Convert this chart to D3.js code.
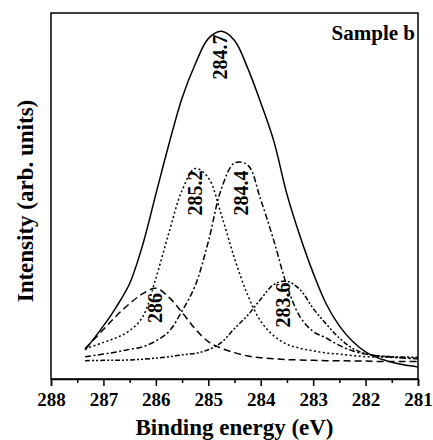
<!DOCTYPE html>
<html>
<head>
  <script src="https://d3js.org/d3.v7.min.js"></script>
  <style>
    body { margin: 0; background: #fff; }
    svg text { font-family: "Liberation Serif", "Times New Roman", serif; font-weight: bold; }
  </style>
</head>
<body>
  <svg width="433" height="440"></svg>
  <script>
    // binding energy grid (eV) and fitted intensities (arb. units)
    var energy = [287.35, 287.0, 286.75, 286.5, 286.25, 286.0, 285.75, 285.5, 285.25, 285.0,
                  284.75, 284.5, 284.25, 284.0, 283.75, 283.5, 283.25, 283.0, 282.75, 282.5,
                  282.25, 282.0, 281.75, 281.5, 281.25, 281.0];

    var envelope = [7.9, 14.5, 19.8, 26.1, 36.7, 50.5, 64.2, 76.8, 86.0, 93.0,
                    95.0, 92.5, 85.0, 75.5, 65.0, 50.5, 39.0, 29.0, 20.5, 14.5,
                    10.3, 7.4, 5.7, 4.6, 3.8, 3.3];

    var peak286 = [8.3, 13.5, 17.3, 20.6, 23.3, 24.8, 22.3, 18.2, 13.7, 10.2,
                   8.4, 7.2, 6.3, 5.8, 5.5, 5.3, 5.2, 5.1, 5.0, 5.0,
                   4.9, 4.9, 4.8, 4.8, 4.8, 4.8];

    var peak2852 = [8.2, 10.0, 11.3, 13.2, 17.0, 27.5, 40.0, 51.5, 57.5, 55.0,
                    44.8, 33.0, 23.0, 15.8, 11.8, 9.5, 8.4, 7.7, 7.1, 6.8,
                    6.4, 6.1, 6.0, 5.9, 5.8, 5.7];

    var peak2844 = [6.1, 6.8, 7.4, 8.1, 8.8, 10.4, 13.0, 18.6, 25.5, 37.5,
                    52.0, 59.0, 58.5, 49.0, 37.8, 25.5, 17.0, 13.0, 11.2, 9.2,
                    7.7, 6.8, 6.3, 6.0, 5.7, 5.5];

    var peak2836 = [5.0, 5.1, 5.1, 5.2, 5.4, 5.7, 6.1, 6.6, 7.0, 8.0,
                    10.0, 13.8, 17.4, 21.8, 25.8, 26.7, 24.4, 19.3, 15.0, 11.2,
                    8.4, 6.9, 6.3, 6.1, 6.0, 5.9];

    var majorTicks = [288, 287, 286, 285, 284, 283, 282, 281];
    var minorTicks = [287.5, 286.5, 285.5, 284.5, 283.5, 282.5, 281.5];

    // peak labels: text, anchor energy, anchor intensity
    var labels = [
      {text: "284.7", e: 284.65, i: 88.0},
      {text: "285.2", e: 285.12, i: 50.8},
      {text: "284.4", e: 284.25, i: 50.8},
      {text: "286",   e: 285.89, i: 19.4},
      {text: "283.6", e: 283.44, i: 20.2}
    ];

    var svg = d3.select("svg"),
        margin = {top: 13, right: 15, bottom: 61, left: 51},
        width = +svg.attr("width") - margin.left - margin.right,
        height = +svg.attr("height") - margin.top - margin.bottom;

    var x = d3.scaleLinear().domain([288, 281]).range([0, width]),
        y = d3.scaleLinear().domain([0, 100]).range([height, 0]);

    var g = svg.append("g")
        .attr("transform", "translate(" + margin.left + "," + margin.top + ")");

    var series = [
      {values: envelope, dash: null},
      {values: peak286,  dash: "7,4"},
      {values: peak2852, dash: "2,2.5"},
      {values: peak2844, dash: "6,2.5,2,2.5"},
      {values: peak2836, dash: "5,2,2,2,2,2"}
    ];

    var line = d3.line()
        .x(function(d) { return x(d[0]); })
        .y(function(d) { return y(d[1]); })
        .curve(d3.curveCatmullRom);

    g.selectAll(".curve")
      .data(series)
      .enter().append("path")
      .attr("class", "curve")
      .attr("fill", "none")
      .attr("stroke", "#000")
      .attr("stroke-width", 1.5)
      .attr("stroke-dasharray", function(d) { return d.dash; })
      .attr("d", function(d) { return line(energy.map(function(e, k) { return [e, d.values[k]]; })); });

    // frame
    g.append("rect")
      .attr("width", width)
      .attr("height", height)
      .attr("fill", "none")
      .attr("stroke", "#000")
      .attr("stroke-width", 1.5);

    // bottom axis
    var xAxis = g.append("g")
      .attr("transform", "translate(0," + height + ")")
      .call(d3.axisBottom(x).tickValues(majorTicks).tickSize(7).tickPadding(7)
        .tickFormat(d3.format("d")));
    xAxis.attr("font-family", null);
    xAxis.select(".domain").attr("stroke-width", 1.5);
    xAxis.selectAll(".tick line").attr("stroke-width", 1.5);
    xAxis.selectAll("text")
      .style("font-family", "'Liberation Serif', 'Times New Roman', serif")
      .style("font-size", "19px")
      .attr("fill", "#000");

    var xMinor = g.append("g")
      .attr("transform", "translate(0," + height + ")")
      .call(d3.axisBottom(x).tickValues(minorTicks).tickSize(4).tickFormat(""));
    xMinor.select(".domain").remove();
    xMinor.selectAll(".tick line").attr("stroke-width", 1.5);

    // peak labels
    g.selectAll(".peak-label")
      .data(labels)
      .enter().append("text")
      .attr("class", "peak-label")
      .attr("transform", function(d) { return "translate(" + x(d.e) + "," + y(d.i) + ") rotate(-90)"; })
      .attr("text-anchor", "middle")
      .style("font-size", "20px")
      .text(function(d) { return d.text; });

    g.append("text")
      .attr("x", width - 3)
      .attr("y", 27)
      .attr("text-anchor", "end")
      .style("font-size", "21px")
      .text("Sample b");

    svg.append("text")
      .attr("x", margin.left + width / 2)
      .attr("y", 435)
      .attr("text-anchor", "middle")
      .style("font-size", "23px")
      .text("Binding energy (eV)");

    svg.append("text")
      .attr("transform", "translate(33,201) rotate(-90)")
      .attr("text-anchor", "middle")
      .style("font-size", "23px")
      .text("Intensity (arb. units)");
  </script>
</body>
</html>
